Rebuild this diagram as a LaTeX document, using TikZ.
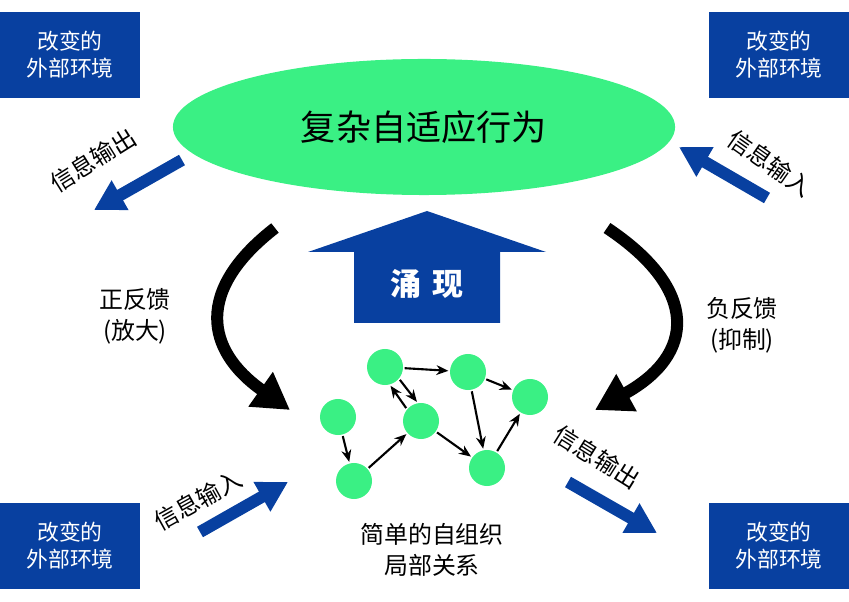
\documentclass[tikz,border=0pt]{standalone}
\usepackage{fontspec}
\newfontfamily\cjk{Noto Sans CJK SC}
\usetikzlibrary{arrows.meta,shapes.geometric}
\definecolor{envblue}{RGB}{8,64,160}
\definecolor{cagreen}{RGB}{58,240,132}

\begin{document}
\begin{tikzpicture}[x=0.025cm, y=-0.025cm,
  env/.style={fill=envblue, minimum width=3.5cm, minimum height=2.15cm,
              align=center, text=white, font=\cjk\fontsize{15.5}{19}\selectfont},
  lb/.style={align=center, font=\cjk\fontsize{17}{22}\selectfont},
  nd/.style={circle, fill=cagreen, minimum size=0.9cm, inner sep=0pt},
  ar/.style={-{Stealth[length=8.5pt,width=7pt]}, line width=1.5pt, shorten >=1pt, shorten <=1pt},
  io/.style={envblue, line width=0.3cm, -{Triangle[length=0.75cm,width=0.8cm]}},
  fb/.style={line width=0.3cm, -{Triangle[length=0.9cm,width=1cm]}}]
\useasboundingbox (0,0) rectangle (849,602);

% changing environment, four corners
\node[env] (envTL) at (70,55)  {改变的\\外部环境};
\node[env] (envTR) at (779,55) {改变的\\外部环境};
\node[env] (envBL) at (70,546) {改变的\\外部环境};
\node[env] (envBR) at (779,546) {改变的\\外部环境};

% complex adaptive behaviour
\node[ellipse, fill=cagreen, minimum width=12.55cm, minimum height=3.4cm,
      font=\cjk\fontsize{25}{29}\selectfont] (cas) at (424,127) {复杂自适应行为};

% emergence
\fill[envblue] (354,323) -- (354,252) -- (308,252) -- (427,211) -- (546,252)
  -- (500,252) -- (500,323) -- cycle;
\node[text=white, font=\cjk\bfseries\fontsize{22}{26}\selectfont] (emg) at (427,284) {涌\,\,现};

% information in / out
\coordinate (o1s) at (182,160); \coordinate (o1e) at (94,210);
\coordinate (i1s) at (767,198); \coordinate (i1e) at (679,147);
\coordinate (i2s) at (200,532); \coordinate (i2e) at (288,482);
\coordinate (o2s) at (568,482); \coordinate (o2e) at (657,533);
\draw[io] (o1s) -- (o1e);
\draw[io] (i1s) -- (i1e);
\draw[io] (i2s) -- (i2e);
\draw[io] (o2s) -- (o2e);
\node[lb, rotate=32]  (o1t) at (93,160)  {信息输出};
\node[lb, rotate=-35] (i1t) at (770,163) {信息输入};
\node[lb, rotate=29]  (i2t) at (198,500) {信息输入};
\node[lb, rotate=-32] (o2t) at (597,457) {信息输出};

% feedback loops
\coordinate (pfs) at (275,228); \coordinate (pfe) at (290,410);
\coordinate (nfs) at (607,228); \coordinate (nfe) at (595,410);
\draw[fb] (pfs) .. controls (195,290) and (205,350) .. (pfe);
\draw[fb] (nfs) .. controls (700,290) and (695,355) .. (nfe);
\node[lb] (pos) at (135,316) {正反馈\\(放大)};
\node[lb] (neg) at (742,325) {负反馈\\(抑制)};

% simple local self-organisation
\node[nd] (n1) at (385,367) {};
\node[nd] (n2) at (468,372) {};
\node[nd] (n3) at (530,397) {};
\node[nd] (n4) at (338,417) {};
\node[nd] (n5) at (421,421) {};
\node[nd] (n6) at (354,481) {};
\node[nd] (n7) at (487,468) {};
\draw[ar] (n1) -- (n2);
\draw[ar] (n1.-40) -- (n5.100);
\draw[ar] (n5.140) -- (n1.-75);
\draw[ar] (n2) -- (n3);
\draw[ar] (n2) -- (n7);
\draw[ar] (n7) -- (n3);
\draw[ar] (n4) -- (n6);
\draw[ar] (n6) -- (n5);
\draw[ar] (n5) -- (n7);
\node[lb] (loc) at (432,550) {简单的自组织\\局部关系};
\end{tikzpicture}
\end{document}
